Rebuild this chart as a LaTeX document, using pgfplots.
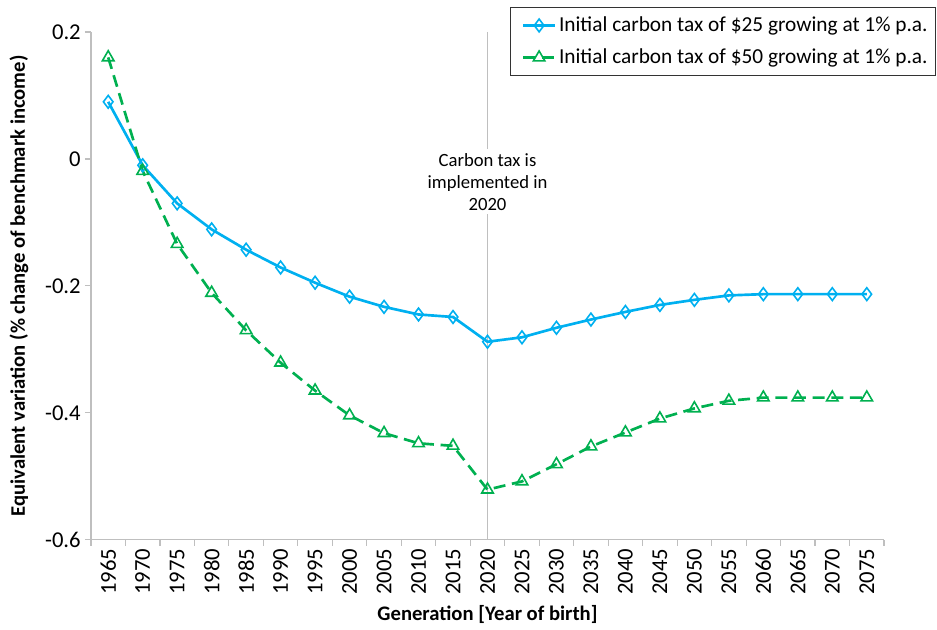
\documentclass[border=0pt]{standalone}
\usepackage{pgfplots}
\pgfplotsset{compat=1.18}
\usepackage{fontspec}
\setmainfont{Carlito}
\usetikzlibrary{calc}
\definecolor{cblue}{RGB}{0,176,240}
\definecolor{cgreen}{RGB}{0,176,80}
\definecolor{axgray}{RGB}{191,191,191}
\pgfplotstableread{
i y25 y50
0 0.090 0.160
1 -0.010 -0.019
2 -0.070 -0.134
3 -0.111 -0.211
4 -0.143 -0.270
5 -0.171 -0.321
6 -0.195 -0.365
7 -0.217 -0.404
8 -0.233 -0.432
9 -0.245 -0.448
10 -0.249 -0.452
11 -0.288 -0.521
12 -0.281 -0.508
13 -0.266 -0.481
14 -0.253 -0.453
15 -0.241 -0.431
16 -0.230 -0.409
17 -0.222 -0.393
18 -0.215 -0.381
19 -0.213 -0.376
20 -0.213 -0.376
21 -0.213 -0.376
22 -0.213 -0.376
}\datatable
\begin{document}
\begin{tikzpicture}
\begin{axis}[
  scale only axis,
  width=595pt, height=381pt,
  xmin=-0.5, xmax=22.5,
  ymin=-0.6, ymax=0.2,
  axis x line*=bottom, axis y line*=left,
  axis line style={axgray, line width=0.9pt, -},
  xtick={0,...,22},
  xticklabels={1965,1970,1975,1980,1985,1990,1995,2000,2005,2010,2015,2020,2025,2030,2035,2040,2045,2050,2055,2060,2065,2070,2075},
  major x tick style={draw=none},
  minor xtick={-0.5,0.5,...,22.5},
  minor tick length=4.5pt,
  minor x tick style={axgray, line width=0.9pt},
  ytick={-0.6,-0.4,-0.2,0,0.2},
  yticklabels={-0.6,-0.4,-0.2,0,0.2},
  major tick length=4.5pt,
  y tick style={axgray, line width=0.9pt},
  tick align=outside,
  xticklabel style={rotate=90, anchor=east, font=\fontsize{17}{20}\selectfont, inner sep=2pt},
  yticklabel style={font=\fontsize{17}{20}\selectfont, inner sep=3pt},
  xlabel={\textbf{Generation [Year of birth]}},
  ylabel={\textbf{Equivalent variation (\% change of benchmark income)}},
  label style={font=\fontsize{15.5}{18}\selectfont},
  xlabel style={at={(axis description cs:0.5,-0.147)}, anchor=center},
  ylabel style={at={(axis description cs:-0.0907,0.5)}, anchor=center},
  legend style={at={(rel axis cs:1,1)}, anchor=north east, xshift=39pt, yshift=18.5pt,
    draw=black!80, line width=0.6pt, font=\fontsize{16}{19}\selectfont,
    row sep=7.5pt, inner ysep=5pt, inner xsep=4pt, legend cell align=left},
  legend image code/.code={
    \path (-0.17cm,0cm);
    \draw[mark repeat=2,mark phase=2,#1] plot coordinates {(0cm,0cm) (0.42cm,0cm) (0.84cm,0cm)};
  },
  clip=false,
]
\draw[axgray, line width=0.9pt] (axis cs:11,0.2) -- (axis cs:11,-0.6);
\node[fill=white, align=center, font=\fontsize{14}{16.5}\selectfont, inner sep=3pt] at (axis cs:11,-0.036) {Carbon tax is\\implemented in\\2020};
\addplot[cblue, line width=2pt, mark=diamond, mark size=4.8pt, mark options={solid, line width=1.2pt, fill=white}] table[x=i, y=y25] {\datatable};
\addlegendentry{Initial carbon tax of \$25 growing at 1\% p.a.}
\addplot[cgreen, line width=2pt, dash pattern=on 9pt off 5pt, mark=triangle, mark size=5pt, mark options={solid, line width=1.2pt, fill=white}] table[x=i, y=y50] {\datatable};
\addlegendentry{Initial carbon tax of \$50 growing at 1\% p.a.}
\end{axis}
\path ($(current axis.south west)+(-68.25pt,-67.5pt)$) rectangle ($(current axis.north east)+(39.75pt,24pt)$);
\end{tikzpicture}
\end{document}
